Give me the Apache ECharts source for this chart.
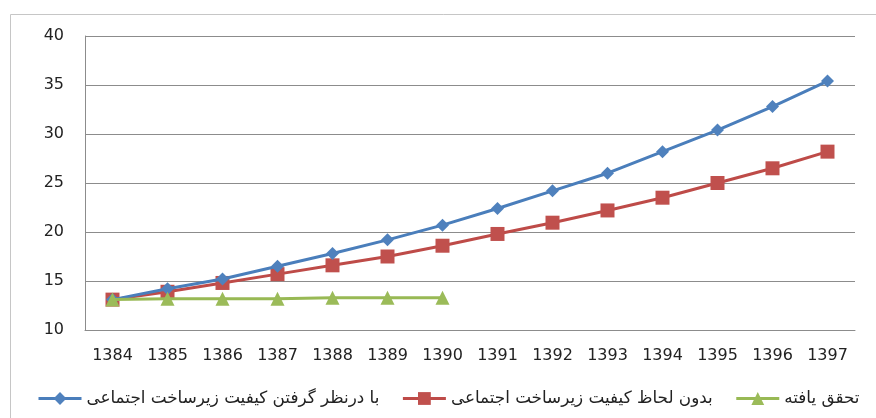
<!DOCTYPE html>
<html><head><meta charset="utf-8">
<script src="https://cdn.jsdelivr.net/npm/echarts@6/dist/echarts.min.js"></script>
<style>html,body{margin:0;padding:0;background:#fff}#c{width:876px;height:418px}</style>
</head><body><div id="c"></div>
<script>
const years = ['1384','1385','1386','1387','1388','1389','1390','1391','1392','1393','1394','1395','1396','1397'];
const withInfra = [13.1,14.2,15.2,16.5,17.8,19.2,20.7,22.4,24.2,26.0,28.2,30.4,32.8,35.4];
const withoutInfra = [13.1,13.9,14.8,15.7,16.6,17.5,18.6,19.8,20.95,22.2,23.5,25.0,26.5,28.2];
const realized = [13.1,13.2,13.2,13.2,13.3,13.3,13.3,null,null,null,null,null,null,null];
const names = ['با درنظر گرفتن کیفیت زیرساخت اجتماعی','بدون لحاظ کیفیت زیرساخت اجتماعی','تحقق یافته'];

const chart = echarts.init(document.getElementById('c'));
const font = 'DejaVu Sans';
chart.setOption({
  animation:false,
  backgroundColor:'#fff',
  graphic:[{type:'rect',shape:{x:10.5,y:14.5,width:900,height:500},style:{fill:'none',stroke:'#c6c6c6',lineWidth:1},z:-10}],
  grid:{left:85,right:21,top:36,bottom:88},
  legend:{left:32,top:385,itemWidth:43,itemHeight:16,itemGap:22,
    lineStyle:{width:3},
    textStyle:{fontFamily:font,fontSize:16.8,color:'#222'},
    data:names},
  xAxis:{type:'category',data:years,boundaryGap:true,
    axisLine:{lineStyle:{color:'#8c8c8c'}},axisTick:{show:false},
    axisLabel:{fontFamily:font,fontSize:16,color:'#222',margin:18}},
  yAxis:{type:'value',min:10,max:40,interval:5,
    axisLine:{show:true,lineStyle:{color:'#8c8c8c'}},axisTick:{show:false},
    splitLine:{lineStyle:{color:'#8c8c8c'}},
    axisLabel:{fontFamily:font,fontSize:16,color:'#222',margin:21}},
  series:[
    {name:names[0],type:'line',data:withInfra,symbol:'diamond',symbolSize:13,
     lineStyle:{color:'#4a7ebb',width:3},itemStyle:{color:'#4f81bd'},z:3},
    {name:names[1],type:'line',data:withoutInfra,symbol:'rect',symbolSize:14,
     lineStyle:{color:'#be4b48',width:3},itemStyle:{color:'#c0504d'},z:2},
    {name:names[2],type:'line',data:realized,symbol:'triangle',symbolSize:14,
     lineStyle:{color:'#98b954',width:3},itemStyle:{color:'#9bbb59'},z:4}
  ]
});
</script></body></html>
